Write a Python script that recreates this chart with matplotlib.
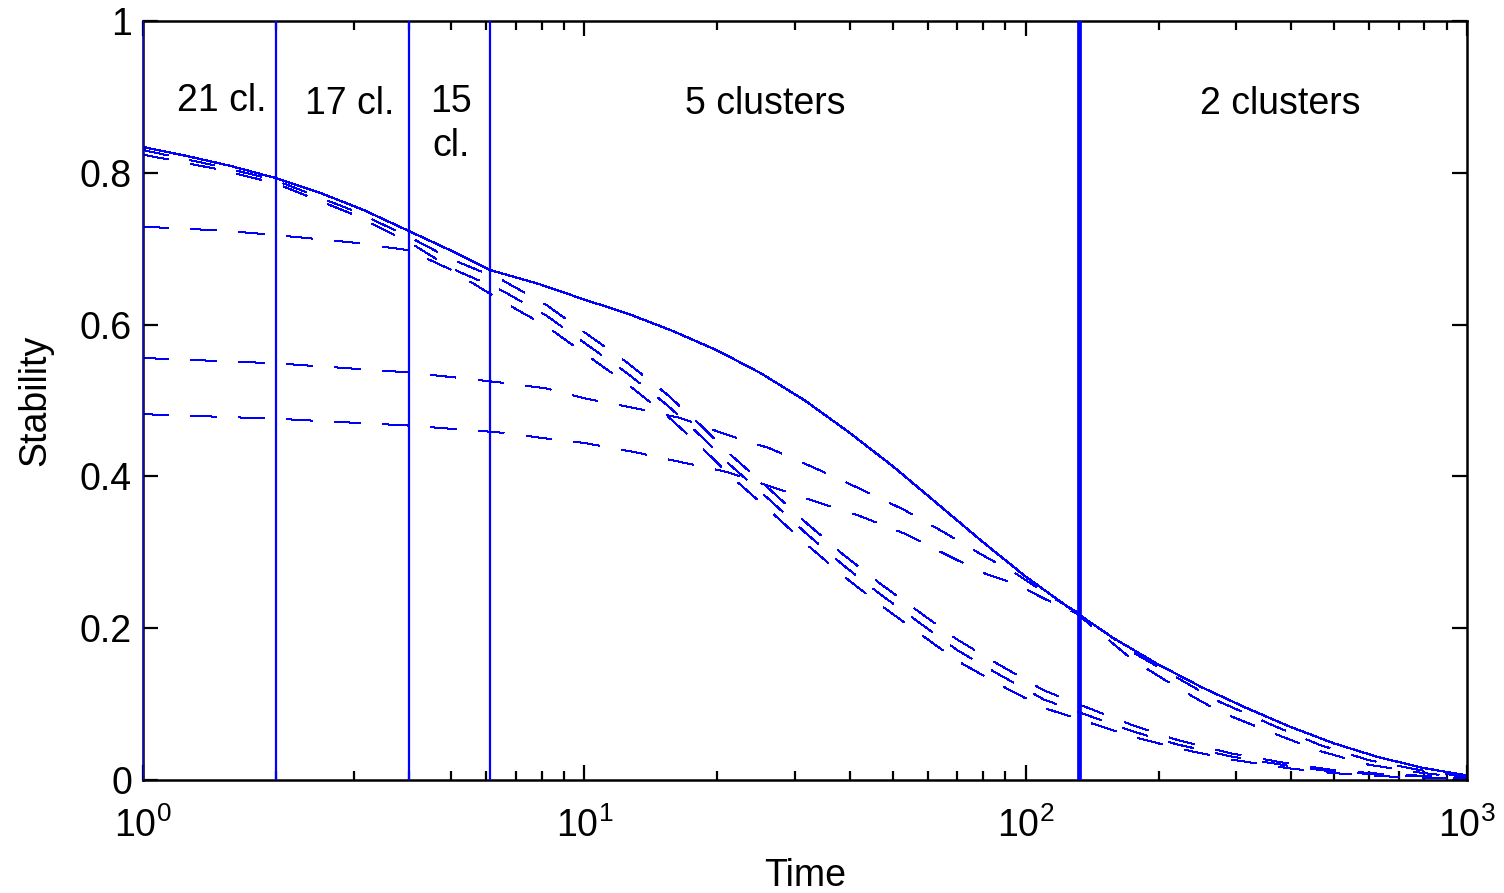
import numpy as np
import matplotlib
matplotlib.use('Agg')
import matplotlib.pyplot as plt
from matplotlib.ticker import FixedLocator, LogLocator, FuncFormatter, NullFormatter

plt.rcParams['font.family'] = ['Liberation Sans', 'DejaVu Sans']
plt.rcParams['mathtext.fontset'] = 'custom'
plt.rcParams['mathtext.rm'] = 'Liberation Sans'
plt.rcParams['lines.scale_dashes'] = False

BLUE = '#0000ff'
FS = 27

# Envelope (solid) - stability of the optimal partition
t_env = [1, 1.26, 1.58, 2, 2.51, 3.16, 3.98, 5.01, 6.1, 7.94, 10, 12.6, 15.8, 20,
         25.1, 31.6, 39.8, 50.1, 63.1, 79.4, 100, 126, 158, 200, 251, 316, 398,
         501, 631, 794, 1000]
stab_env = [0.834, 0.822, 0.809, 0.793, 0.774, 0.751, 0.724, 0.697, 0.672, 0.653,
            0.633, 0.614, 0.592, 0.566, 0.536, 0.500, 0.458, 0.413, 0.364, 0.315,
            0.268, 0.226, 0.187, 0.152, 0.122, 0.095, 0.070, 0.048, 0.030, 0.016,
            0.006]

# Fine partitions (steep band)
t_steep = [1, 1.5, 2, 3, 4, 5, 6.5, 8.2, 10, 12.5, 15.4, 18.3, 21.5, 26.3, 31.8,
           38.6, 47, 57.5, 70, 87, 110, 137, 175, 220, 292, 400, 500, 640, 1000]
stab_s1 = [0.830, 0.808, 0.790, 0.750, 0.716, 0.686, 0.659, 0.626, 0.590, 0.550,
           0.508, 0.468, 0.428, 0.383, 0.339, 0.297, 0.258, 0.221, 0.185, 0.152,
           0.118, 0.096, 0.072, 0.053, 0.035, 0.021, 0.013, 0.008, 0.003]
stab_s2 = [0.824, 0.804, 0.786, 0.745, 0.709, 0.674, 0.645, 0.612, 0.576, 0.536,
           0.494, 0.454, 0.414, 0.369, 0.325, 0.283, 0.244, 0.207, 0.171, 0.139,
           0.106, 0.086, 0.064, 0.047, 0.031, 0.018, 0.011, 0.007, 0.002]
stab_s3 = [0.729, 0.724, 0.718, 0.708, 0.698, 0.672, 0.631, 0.598, 0.562, 0.522,
           0.480, 0.440, 0.400, 0.355, 0.311, 0.269, 0.230, 0.193, 0.157, 0.126,
           0.095, 0.077, 0.057, 0.042, 0.027, 0.015, 0.009, 0.005, 0.001]

# Coarse partitions (flat band)
t_flat = [1, 2, 4, 6.4, 8.2, 10, 13, 16.5, 21, 26.3, 33, 42, 53, 65, 80, 95, 111,
          130, 175, 220, 275, 370, 465, 600, 800, 1000]
stab_f1 = [0.556, 0.549, 0.537, 0.524, 0.516, 0.503, 0.490, 0.477, 0.455, 0.437,
           0.412, 0.384, 0.356, 0.327, 0.296, 0.272, 0.246, 0.222, 0.168, 0.135,
           0.103, 0.070, 0.046, 0.026, 0.012, 0.004]
stab_f2 = [0.482, 0.476, 0.467, 0.458, 0.450, 0.444, 0.432, 0.419, 0.406, 0.387,
           0.368, 0.348, 0.325, 0.299, 0.273, 0.258, 0.238, 0.220, 0.158, 0.122,
           0.090, 0.060, 0.038, 0.020, 0.009, 0.003]

# Partition change times and labels
t_changes = [1, 2, 4, 6.1]
t_big_change = 132
labels = ['21 cl.', '17 cl.', '15\ncl.', '5 clusters', '2 clusters']
label_t = [1.51, 2.94, 5.0, 25.7, 377]
label_y = [0.895, 0.891, 0.864, 0.891, 0.891]

fig = plt.figure(figsize=(15.04, 8.93), dpi=100)
ax = fig.add_axes([143/1504, 1 - 780/893, (1467-143)/1504, (780-21)/893])

dash = (0, (18, 16.5))
for t, s in [(t_steep, stab_s1), (t_steep, stab_s2), (t_steep, stab_s3),
             (t_flat, stab_f1), (t_flat, stab_f2)]:
    ax.plot(t, s, color=BLUE, lw=0.9, linestyle=dash, antialiased=False)
ax.plot(t_env, stab_env, color=BLUE, lw=0.9, antialiased=False)

for t in t_changes:
    ax.axvline(t, color=BLUE, lw=1.6, zorder=3)
ax.axvline(t_big_change, color=BLUE, lw=3.4, zorder=3)

for txt, tx, ty in zip(labels, label_t, label_y):
    ax.text(tx, ty, txt, fontsize=FS, ha='center', va='center', linespacing=1.3)

ax.set_xscale('log')
ax.set_xlim(1, 1000)
ax.set_ylim(0, 1)
ax.xaxis.set_major_locator(FixedLocator([1, 10, 100, 1000]))
ax.xaxis.set_minor_locator(LogLocator(base=10, subs=np.arange(2, 10)))
ax.xaxis.set_minor_formatter(NullFormatter())
ax.xaxis.set_major_formatter(FuncFormatter(lambda v, p: r'$10^{%d}$' % round(np.log10(v))))
ax.yaxis.set_major_locator(FixedLocator([0, 0.2, 0.4, 0.6, 0.8, 1.0]))
ax.yaxis.set_major_formatter(FuncFormatter(lambda v, p: '%g' % v))

ax.tick_params(which='both', direction='in', top=True, right=True, width=1.6,
               labelsize=FS, colors='black')
ax.tick_params(which='major', length=10.8)
ax.tick_params(which='minor', length=6.5)
ax.tick_params(axis='y', pad=8)
ax.tick_params(axis='x', pad=20)
for sp in ax.spines.values():
    sp.set_linewidth(1.8)

ax.set_xlabel('Time', fontsize=FS)
ax.set_ylabel('Stability', fontsize=FS)
ax.xaxis.set_label_coords(0.5, -0.103)
ax.yaxis.set_label_coords(-0.068, 0.5)

fig.savefig('out.png', dpi=100)
